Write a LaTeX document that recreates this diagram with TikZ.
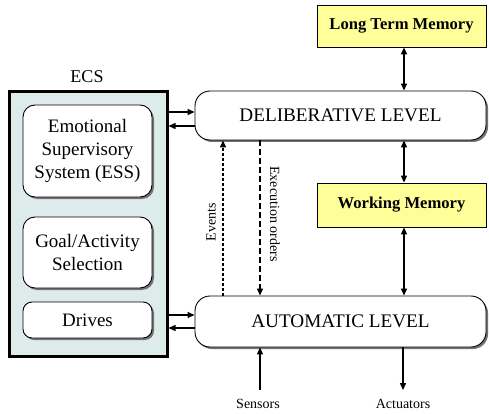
\documentclass[tikz,border=0pt]{standalone}
\usepackage{fontspec}
\setmainfont{Liberation Serif}
\usetikzlibrary{arrows.meta,shadows}
\definecolor{ecsfill}{RGB}{222,235,235}
\definecolor{memfill}{RGB}{255,255,153}
\tikzset{
  rbox/.style={draw=black, line width=0.9pt, rounded corners=13pt, fill=white,
    inner sep=0pt, align=center,
    drop shadow={shadow xshift=2pt, shadow yshift=-2pt, fill=black!55, opacity=1}},
  membox/.style={draw=black, line width=0.8pt, fill=memfill, inner sep=0pt,
    font=\bfseries\fontsize{16.6}{19}\selectfont},
  arr/.style={line width=1.4pt, -{Triangle[length=7pt,width=6pt]}},
  darr/.style={line width=1.4pt, {Triangle[length=7pt,width=6pt]}-{Triangle[length=7pt,width=6pt]}},
  evline/.style={line width=1.3pt, dash pattern=on 3pt off 2pt, -{Triangle[length=7pt,width=6pt]}},
  exline/.style={line width=1.3pt, dash pattern=on 6pt off 3pt, -{Triangle[length=7pt,width=6pt]}},
  big/.style={font=\fontsize{19}{23}\selectfont},
  small/.style={font=\fontsize{14}{16}\selectfont}
}
\begin{document}
\begin{tikzpicture}[x=1pt,y=-1pt]
\useasboundingbox (0,0) rectangle (489,414);
% ECS container
\node[draw=black, line width=3pt, fill=ecsfill, minimum width=158pt, minimum height=264pt, inner sep=0pt] (ecs) at (88,224) {};
\node[big, font=\fontsize{18}{21}\selectfont] (ecslabel) at (87,77) {ECS};
\node[rbox, big, minimum width=129pt, minimum height=92pt, rounded corners=12pt] (ess) at (87.5,151) {Emotional\\Supervisory\\System (ESS)};
\node[rbox, big, minimum width=129pt, minimum height=71pt, rounded corners=12pt] (goal) at (87.5,252.5) {Goal/Activity\\Selection};
\node[rbox, big, minimum width=129pt, minimum height=36pt, rounded corners=9pt] (drives) at (87.5,320) {Drives};
% levels
\node[rbox, minimum width=291pt, minimum height=49pt, rounded corners=15pt, font=\fontsize{19.2}{22}\selectfont] (delib) at (340.5,115.5) {DELIBERATIVE LEVEL};
\node[rbox, minimum width=291pt, minimum height=51pt, rounded corners=15pt, font=\fontsize{19.2}{22}\selectfont] (auto) at (340.5,321.5) {AUTOMATIC LEVEL};
% memories
\node[membox, minimum width=169pt, minimum height=42pt] (ltm) at (401.5,26) {Long Term Memory};
\node[membox, minimum width=169pt, minimum height=44pt] (wm) at (401.5,205) {Working Memory};
% vertical memory arrows
\coordinate (vx) at (404,0);
\draw[darr] (ltm.south -| vx) -- (delib.north -| vx);
\draw[darr] (delib.south -| vx) -- (wm.north -| vx);
\draw[darr] (wm.south -| vx) -- (auto.north -| vx);
% ECS links
\draw[arr] (ecs.east |- 0,112) -- (delib.west |- 0,112);
\draw[arr] (delib.west |- 0,126) -- (ecs.east |- 0,126);
\draw[arr] (ecs.east |- 0,315) -- (auto.west |- 0,315);
\draw[arr] (auto.west |- 0,328) -- (ecs.east |- 0,328);
% events / execution orders
\coordinate (evx) at (223,0);
\coordinate (exx) at (260,0);
\draw[evline] (auto.north -| evx) -- (delib.south -| evx);
\draw[exline] (delib.south -| exx) -- (auto.north -| exx);
\node[small, rotate=90] (evlabel) at (211,222) {Events};
\node[small, rotate=-90] (exlabel) at (275,214) {Execution orders};
% sensors / actuators
\coordinate (sens) at (260,390);
\coordinate (act) at (403,390);
\draw[arr] (sens) -- (auto.south -| sens);
\draw[arr] (auto.south -| act) -- (act);
\node[small] (senslabel) at (258,404) {Sensors};
\node[small] (actlabel) at (403,404) {Actuators};
\end{tikzpicture}
\end{document}
